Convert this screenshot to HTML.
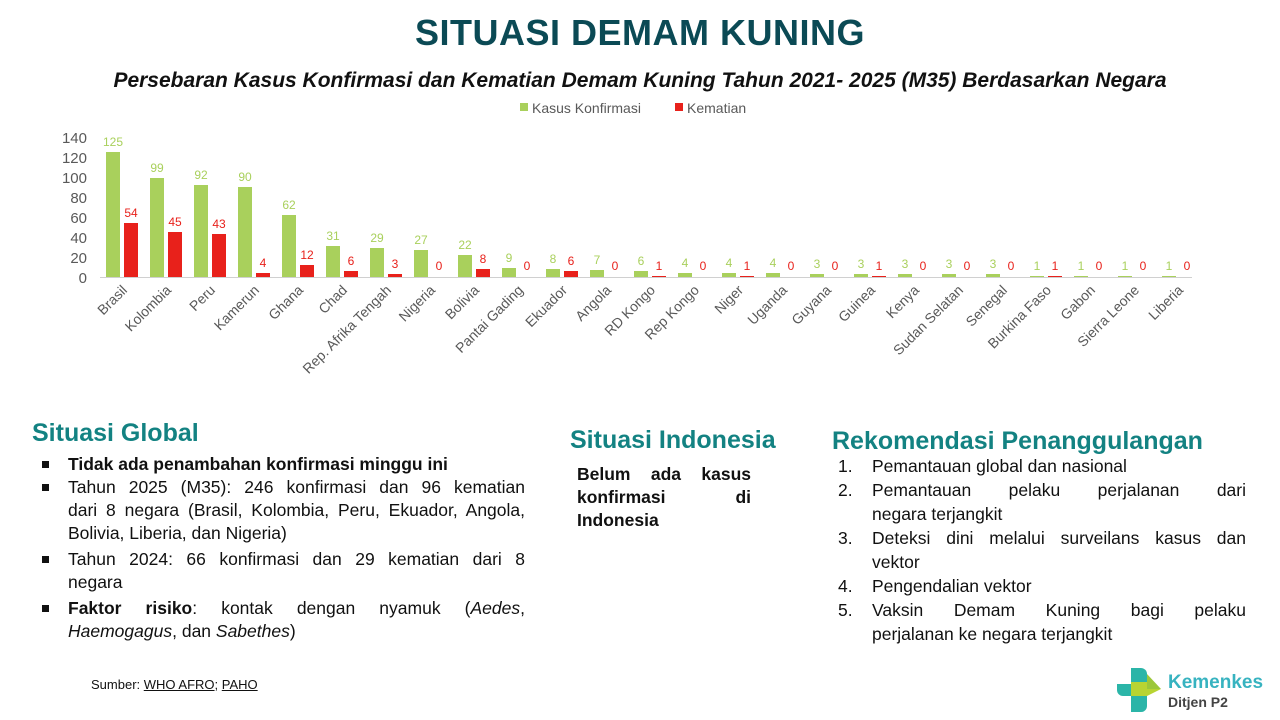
<!DOCTYPE html>
<html><head><meta charset="utf-8"><style>
body{margin:0;width:1280px;height:720px;background:#fff;position:relative;overflow:hidden;font-family:"Liberation Sans",sans-serif}
.abs{position:absolute}
h1{position:absolute;left:0;width:1280px;top:12px;margin:0;text-align:center;font-size:36px;color:#0b4a55;font-weight:bold;letter-spacing:0.5px}
.sub{left:0;width:1280px;top:69px;text-align:center;font-size:21px;font-weight:bold;font-style:italic;color:#111}
.h2{font-size:25px;font-weight:bold;color:#138282}
.txt{font-size:17.5px;line-height:23px;color:#111}
.j{text-align:justify;text-align-last:justify;white-space:nowrap;overflow:visible}
.l{position:relative;padding-left:28px}
.b:before{content:"";position:absolute;left:2px;top:8px;width:7px;height:7px;background:#111}
.n{position:absolute;left:6px}
.r{position:relative;padding-left:40px}
</style></head><body>
<h1>SITUASI DEMAM KUNING</h1>
<div class="abs sub">Persebaran Kasus Konfirmasi dan Kematian Demam Kuning Tahun 2021- 2025 (M35) Berdasarkan Negara</div>
<svg class="abs" style="left:0;top:0" width="1280" height="410" font-family="Liberation Sans, sans-serif">
<rect x="520" y="103" width="8" height="8" fill="#a9d05c"/><text x="532" y="113" font-size="14" fill="#595959">Kasus Konfirmasi</text>
<rect x="675" y="103" width="8" height="8" fill="#e8211b"/><text x="687" y="113" font-size="14" fill="#595959">Kematian</text>
<g font-size="15" fill="#595959" text-anchor="end">
<text x="87" y="143">140</text><text x="87" y="163">120</text><text x="87" y="183">100</text><text x="87" y="203">80</text><text x="87" y="223">60</text><text x="87" y="243">40</text><text x="87" y="263">20</text><text x="87" y="283">0</text>
</g>
<line x1="100" y1="277.5" x2="1192" y2="277.5" stroke="#d0d0d0" stroke-width="1"/>
<g fill="#a9d05c">
<rect x="106" y="152" width="14" height="125"/><rect x="150" y="178" width="14" height="99"/><rect x="194" y="185" width="14" height="92"/><rect x="238" y="187" width="14" height="90"/><rect x="282" y="215" width="14" height="62"/><rect x="326" y="246" width="14" height="31"/><rect x="370" y="248" width="14" height="29"/><rect x="414" y="250" width="14" height="27"/><rect x="458" y="255" width="14" height="22"/><rect x="502" y="268" width="14" height="9"/><rect x="546" y="269" width="14" height="8"/><rect x="590" y="270" width="14" height="7"/><rect x="634" y="271" width="14" height="6"/><rect x="678" y="273" width="14" height="4"/><rect x="722" y="273" width="14" height="4"/><rect x="766" y="273" width="14" height="4"/><rect x="810" y="274" width="14" height="3"/><rect x="854" y="274" width="14" height="3"/><rect x="898" y="274" width="14" height="3"/><rect x="942" y="274" width="14" height="3"/><rect x="986" y="274" width="14" height="3"/><rect x="1030" y="276" width="14" height="1"/><rect x="1074" y="276" width="14" height="1"/><rect x="1118" y="276" width="14" height="1"/><rect x="1162" y="276" width="14" height="1"/>
</g>
<g fill="#e8211b">
<rect x="124" y="223" width="14" height="54"/><rect x="168" y="232" width="14" height="45"/><rect x="212" y="234" width="14" height="43"/><rect x="256" y="273" width="14" height="4"/><rect x="300" y="265" width="14" height="12"/><rect x="344" y="271" width="14" height="6"/><rect x="388" y="274" width="14" height="3"/><rect x="476" y="269" width="14" height="8"/><rect x="564" y="271" width="14" height="6"/><rect x="652" y="276" width="14" height="1"/><rect x="740" y="276" width="14" height="1"/><rect x="872" y="276" width="14" height="1"/><rect x="1048" y="276" width="14" height="1"/>
</g>
<g font-size="12" fill="#a9d05c" text-anchor="middle">
<text x="113" y="146">125</text><text x="157" y="172">99</text><text x="201" y="179">92</text><text x="245" y="181">90</text><text x="289" y="209">62</text><text x="333" y="240">31</text><text x="377" y="242">29</text><text x="421" y="244">27</text><text x="465" y="249">22</text><text x="509" y="262">9</text><text x="553" y="263">8</text><text x="597" y="264">7</text><text x="641" y="265">6</text><text x="685" y="267">4</text><text x="729" y="267">4</text><text x="773" y="267">4</text><text x="817" y="268">3</text><text x="861" y="268">3</text><text x="905" y="268">3</text><text x="949" y="268">3</text><text x="993" y="268">3</text><text x="1037" y="270">1</text><text x="1081" y="270">1</text><text x="1125" y="270">1</text><text x="1169" y="270">1</text>
</g>
<g font-size="12" fill="#e8211b" text-anchor="middle">
<text x="131" y="217">54</text><text x="175" y="226">45</text><text x="219" y="228">43</text><text x="263" y="267">4</text><text x="307" y="259">12</text><text x="351" y="265">6</text><text x="395" y="268">3</text><text x="439" y="270">0</text><text x="483" y="263">8</text><text x="527" y="270">0</text><text x="571" y="265">6</text><text x="615" y="270">0</text><text x="659" y="270">1</text><text x="703" y="270">0</text><text x="747" y="270">1</text><text x="791" y="270">0</text><text x="835" y="270">0</text><text x="879" y="270">1</text><text x="923" y="270">0</text><text x="967" y="270">0</text><text x="1011" y="270">0</text><text x="1055" y="270">1</text><text x="1099" y="270">0</text><text x="1143" y="270">0</text><text x="1187" y="270">0</text>
</g>
<g font-size="14" fill="#595959" text-anchor="end">
<text transform="translate(128,291) rotate(-45)">Brasil</text>
<text transform="translate(172,291) rotate(-45)">Kolombia</text>
<text transform="translate(216,291) rotate(-45)">Peru</text>
<text transform="translate(260,291) rotate(-45)">Kamerun</text>
<text transform="translate(304,291) rotate(-45)">Ghana</text>
<text transform="translate(348,291) rotate(-45)">Chad</text>
<text transform="translate(392,291) rotate(-45)">Rep. Afrika Tengah</text>
<text transform="translate(436,291) rotate(-45)">Nigeria</text>
<text transform="translate(480,291) rotate(-45)">Bolivia</text>
<text transform="translate(524,291) rotate(-45)">Pantai Gading</text>
<text transform="translate(568,291) rotate(-45)">Ekuador</text>
<text transform="translate(612,291) rotate(-45)">Angola</text>
<text transform="translate(656,291) rotate(-45)">RD Kongo</text>
<text transform="translate(700,291) rotate(-45)">Rep Kongo</text>
<text transform="translate(744,291) rotate(-45)">Niger</text>
<text transform="translate(788,291) rotate(-45)">Uganda</text>
<text transform="translate(832,291) rotate(-45)">Guyana</text>
<text transform="translate(876,291) rotate(-45)">Guinea</text>
<text transform="translate(920,291) rotate(-45)">Kenya</text>
<text transform="translate(964,291) rotate(-45)">Sudan Selatan</text>
<text transform="translate(1008,291) rotate(-45)">Senegal</text>
<text transform="translate(1052,291) rotate(-45)">Burkina Faso</text>
<text transform="translate(1096,291) rotate(-45)">Gabon</text>
<text transform="translate(1140,291) rotate(-45)">Sierra Leone</text>
<text transform="translate(1184,291) rotate(-45)">Liberia</text>
</g>
</svg>

<div class="abs h2" style="left:32px;top:419px">Situasi Global</div>
<div class="abs txt" style="left:40px;top:453px;width:485px">
<div class="l b"><b>Tidak ada penambahan konfirmasi minggu ini</b></div>
<div class="l b j">Tahun 2025 (M35): 246 konfirmasi dan 96 kematian</div>
<div class="l j">dari 8 negara (Brasil, Kolombia, Peru, Ekuador, Angola,</div>
<div class="l">Bolivia, Liberia, dan Nigeria)</div>
<div class="l b j" style="margin-top:3px">Tahun 2024: 66 konfirmasi dan 29 kematian dari 8</div>
<div class="l">negara</div>
<div class="l b j" style="margin-top:3px"><b>Faktor risiko</b>: kontak dengan nyamuk (<i>Aedes</i>,</div>
<div class="l"><i>Haemogagus</i>, dan <i>Sabethes</i>)</div>
</div>

<div class="abs h2" style="left:570px;top:426px">Situasi Indonesia</div>
<div class="abs txt" style="left:577px;top:463px;width:174px;font-weight:bold">
<div class="j">Belum ada kasus</div>
<div class="j">konfirmasi di</div>
<div>Indonesia</div>
</div>

<div class="abs h2" style="left:832px;top:427px">Rekomendasi Penanggulangan</div>
<div class="abs txt" style="left:832px;top:454px;width:414px;line-height:24px">
<div class="r"><span class="n">1.</span>Pemantauan global dan nasional</div>
<div class="r j"><span class="n">2.</span>Pemantauan pelaku perjalanan dari</div>
<div class="r">negara terjangkit</div>
<div class="r j"><span class="n">3.</span>Deteksi dini melalui surveilans kasus dan</div>
<div class="r">vektor</div>
<div class="r"><span class="n">4.</span>Pengendalian vektor</div>
<div class="r j"><span class="n">5.</span>Vaksin Demam Kuning bagi pelaku</div>
<div class="r">perjalanan ke negara terjangkit</div>
</div>

<div class="abs" style="left:91px;top:677px;font-size:13px;color:#111">Sumber: <u>WHO AFRO</u>; <u>PAHO</u></div>

<svg class="abs" style="left:1115px;top:666px" width="50" height="48">
<path d="M16 2 h10 a6 6 0 0 1 6 6 v8 h-16 z" fill="#2bb5a8"/>
<path d="M2 18 h14 v12 h-8 a6 6 0 0 1 -6 -6 z" fill="#2bb5a8"/>
<path d="M16 30 h16 v10 a6 6 0 0 1 -6 6 h-10 z" fill="#2bb5a8"/>
<path d="M16 16 h16 l14 7 l-14 7 h-16 z" fill="#b8d432"/>
<path d="M32 8 l14 15 h-14z" fill="#9cc73a"/>
</svg>
<div class="abs" style="left:1168px;top:672px;font-size:19px;font-weight:bold;color:#37b3c0">Kemenkes</div>
<div class="abs" style="left:1168px;top:694px;font-size:14px;font-weight:bold;color:#444">Ditjen P2</div>
</body></html>
